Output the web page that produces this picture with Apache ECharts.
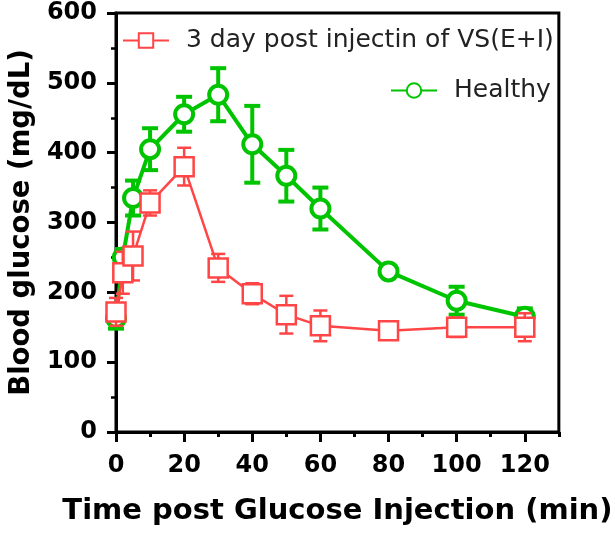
<!DOCTYPE html>
<html><head><meta charset="utf-8">
<script src="https://cdn.jsdelivr.net/npm/echarts@6/dist/echarts.min.js"></script>
<style>html,body{margin:0;padding:0;background:#fff}#c{width:615px;height:534px}</style>
</head><body><div id="c"></div>
<script>
var seriesNames = ['3 day post injectin of VS(E+I)', 'Healthy'];
var vsTime = [0, 2, 5, 10, 20, 30, 40, 50, 60, 80, 100, 120];
var vsMean = [172, 228, 252, 328, 380, 235, 198, 168, 152, 145, 150, 150];
var vsErr  = [20, 30, 35, 18, 27, 20, 15, 27, 22, 10, 14, 20];
var hTime = [0, 2, 5, 10, 20, 30, 40, 50, 60, 80, 100, 120];
var hMean = [163, 250, 335, 405, 455, 483, 412, 367, 320, 230, 188, 165];
var hErr  = [15, 12, 25, 30, 25, 38, 55, 37, 30, 5, 20, 12];
var xTickLabels = [0, 20, 40, 60, 80, 100, 120];
var yTickLabels = [0, 100, 200, 300, 400, 500, 600];

var RED = '#ff4545', GREEN = '#00c400';
function pairs(t, v){ return t.map(function(x,i){return [x, v[i]];}); }
function errData(t, v, e){ return t.map(function(x,i){return [x, v[i]-e[i], v[i]+e[i]];}); }
function errSeries(name, data, color, lw, cap, z){
  return {
    type:'custom', name:name, z:z, silent:true, xAxisIndex:0,
    data:data,
    renderItem:function(params, api){
      var x = api.value(0);
      var lo = api.coord([x, api.value(1)]);
      var hi = api.coord([x, api.value(2)]);
      var st = {stroke:color, lineWidth:lw, fill:null};
      return {type:'group', children:[
        {type:'line', shape:{x1:lo[0],y1:lo[1],x2:hi[0],y2:hi[1]}, style:st},
        {type:'line', shape:{x1:lo[0]-cap,y1:lo[1],x2:lo[0]+cap,y2:lo[1]}, style:st},
        {type:'line', shape:{x1:hi[0]-cap,y1:hi[1],x2:hi[0]+cap,y2:hi[1]}, style:st}
      ]};
    }
  };
}
var FONT = 'DejaVu Sans';
var chart = echarts.init(document.getElementById('c'));
chart.setOption({
  animation:false,
  backgroundColor:'#fff',
  grid:{left:115, right:46, top:13, bottom:102, show:true, borderColor:'#000', borderWidth:3, backgroundColor:'transparent'},
  legend:[
    {data:[seriesNames[0]], left:117, top:23, itemWidth:46, itemHeight:18,
     textStyle:{fontFamily:FONT, fontSize:25, color:'#222', padding:[0,0,0,12]}},
    {data:[seriesNames[1]], left:385, top:73, itemWidth:46, itemHeight:18,
     textStyle:{fontFamily:FONT, fontSize:25, color:'#222', padding:[0,0,0,12]}}
  ],
  xAxis:[
    {type:'value', min:0, max:130, interval:10,
     name:'Time post Glucose Injection (min)', nameLocation:'middle', nameGap:65,
     nameTextStyle:{fontFamily:FONT, fontWeight:'bold', fontSize:29, color:'#000'},
     axisLine:{lineStyle:{color:'#000', width:3}},
     axisTick:{length:5, lineStyle:{color:'#000', width:3}},
     axisLabel:{fontFamily:FONT, fontWeight:'bold', fontSize:24, color:'#000', margin:22,
       formatter:function(v){ return xTickLabels.indexOf(v) >= 0 ? String(v) : ''; }},
     splitLine:{show:false}},
    {type:'value', min:0, max:130, interval:10, position:'bottom',
     axisLine:{show:false},
     axisTick:{show:true, length:10, customValues:xTickLabels, lineStyle:{color:'#000', width:3}},
     axisLabel:{show:false},
     splitLine:{show:false}}
  ],
  yAxis:{type:'value', min:0, max:600, interval:100,
    name:'Blood glucose (mg/dL)', nameLocation:'middle', nameGap:80,
    nameTextStyle:{fontFamily:FONT, fontWeight:'bold', fontSize:27.5, color:'#000'},
    axisLine:{show:true, lineStyle:{color:'#000', width:3}},
    axisTick:{show:true, length:9, lineStyle:{color:'#000', width:3}},
    minorTick:{show:true, splitNumber:2, length:5, lineStyle:{color:'#000', width:2.5}},
    axisLabel:{fontFamily:FONT, fontWeight:'bold', fontSize:24, color:'#000', margin:19,
      formatter:function(v){ return yTickLabels.indexOf(v) >= 0 ? String(v) : ''; }},
    splitLine:{show:false}},
  series:[
    errSeries('hErr', errData(hTime, hMean, hErr), GREEN, 4, 8, 2),
    {type:'line', name:seriesNames[1], data:pairs(hTime, hMean), z:3, xAxisIndex:0,
      symbol:'circle', symbolSize:18, showAllSymbol:true,
      lineStyle:{color:GREEN, width:4}, itemStyle:{color:'#fff', borderColor:GREEN, borderWidth:4}},
    errSeries('vsErr', errData(vsTime, vsMean, vsErr), RED, 2.5, 7, 4),
    {type:'line', name:seriesNames[0], data:pairs(vsTime, vsMean), z:5, xAxisIndex:0,
      symbol:'rect', symbolSize:19, showAllSymbol:true,
      lineStyle:{color:RED, width:2.5}, itemStyle:{color:'#fff', borderColor:RED, borderWidth:2.5}}
  ]
});
</script></body></html>
